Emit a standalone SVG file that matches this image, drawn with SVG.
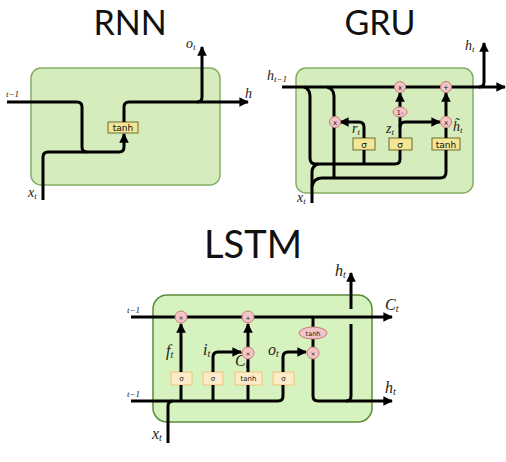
<svg xmlns="http://www.w3.org/2000/svg" width="506" height="462" viewBox="0 0 506 462">
<defs>
<marker id="ah" viewBox="0 0 10 10" refX="9" refY="5" markerWidth="3.2" markerHeight="3.2" orient="auto"><path d="M0,0 L10,5 L0,10 z" fill="#000"/></marker>
<style>
.title{font-family:Lato,"Open Sans","Liberation Sans",sans-serif;font-size:34px;fill:#111;text-anchor:middle}
.cell{fill:#d5ecbd;stroke:#86ad66;stroke-width:1.5}
.cell2{fill:#d6f3bf;stroke:#5b8c3a;stroke-width:1.5}
.w{fill:none;stroke:#000;stroke-width:3;stroke-linecap:butt;stroke-linejoin:round}
.a{marker-end:url(#ah)}
.op{fill:#f4c4c6;stroke:#c27a7a;stroke-width:1}
.gb{fill:#f3e796;stroke:#6e6a30;stroke-width:1}
.lb{fill:#fdebc7;stroke:#f0c27c;stroke-width:1}
.gt{font-family:"DejaVu Sans","Liberation Sans",sans-serif;font-size:9px;fill:#111;text-anchor:middle}
.st{font-family:"DejaVu Sans","Liberation Sans",sans-serif;font-size:7px;fill:#222;text-anchor:middle}
.m{font-family:"Liberation Serif","DejaVu Serif",serif;font-style:italic;font-size:14px;fill:#222}
.ms{font-size:9px}
.L{font-size:16px}
.Ls{font-size:10px}
</style>
</defs>

<text class="title" x="130" y="35">RNN</text>
<text class="title" x="380" y="35">GRU</text>
<text class="title" x="253" y="258" style="font-size:38px">LSTM</text>

<g id="rnn">
<rect class="cell" x="31" y="68" width="189" height="117" rx="10"/>
<g id="rnn-tanh"><rect class="gb" x="108" y="122" width="30" height="11"/><text class="gt" x="123" y="131">tanh</text></g>
<text class="m" x="186" y="48">o<tspan class="ms" dy="2">t</tspan></text>
<text class="m" x="245" y="98">h</text>
<text class="m" x="6" y="97"><tspan class="ms">t−1</tspan></text>
<text class="m" x="28" y="197">x<tspan class="ms" dy="2">t</tspan></text>
</g>

<g id="gru">
<rect class="cell" x="296" y="68" width="177" height="125" rx="10"/>
<g id="gru-sr"><rect class="gb" x="353" y="138" width="22" height="12"/><text class="gt" x="364" y="148">σ</text></g>
<g id="gru-sz"><rect class="gb" x="389" y="138" width="23" height="12"/><text class="gt" x="400" y="148">σ</text></g>
<g id="gru-tanh"><rect class="gb" x="432" y="138" width="28" height="12"/><text class="gt" x="446" y="148">tanh</text></g>
<text class="m" x="267" y="80">h<tspan class="ms" dy="2">t−1</tspan></text>
<text class="m" x="465" y="50">h<tspan class="ms" dy="2">t</tspan></text>
<text class="m" x="352" y="133">r<tspan class="ms" dy="2">t</tspan></text>
<text class="m" x="386" y="133">z<tspan class="ms" dy="2">t</tspan></text>
<text class="m" x="453" y="131">h̃<tspan class="ms" dy="2">t</tspan></text>
<text class="m" x="297" y="202">x<tspan class="ms" dy="2">t</tspan></text>
</g>

<g id="lstm">
<rect class="cell2" x="153" y="295" width="219" height="127" rx="14"/>
<g id="l-sf"><rect class="lb" x="171" y="372" width="21" height="13"/><text class="st" x="181.5" y="381">σ</text></g>
<g id="l-si"><rect class="lb" x="203" y="372" width="20" height="13"/><text class="st" x="213" y="381">σ</text></g>
<g id="l-tanh"><rect class="lb" x="235" y="372" width="27" height="13"/><text class="st" x="248.5" y="381">tanh</text></g>
<g id="l-so"><rect class="lb" x="273" y="372" width="21" height="13"/><text class="st" x="283.5" y="381">σ</text></g>
<text class="m" x="127" y="313"><tspan class="ms">t−1</tspan></text>
<text class="m" x="127" y="397"><tspan class="ms">t−1</tspan></text>
<text class="m L" x="385" y="310">C<tspan class="Ls" dy="2">t</tspan></text>
<text class="m L" x="385" y="393">h<tspan class="Ls" dy="2">t</tspan></text>
<text class="m L" x="335" y="276">h<tspan class="Ls" dy="2">t</tspan></text>
<text class="m L" x="166" y="356">f<tspan class="Ls" dy="2">t</tspan></text>
<text class="m L" x="203" y="355">i<tspan class="Ls" dy="2">t</tspan></text>
<text class="m L" x="235" y="366">C̃<tspan class="Ls" dy="2">t</tspan></text>
<text class="m L" x="268" y="355">o<tspan class="Ls" dy="2">t</tspan></text>
<text class="m L" x="152" y="439">x<tspan class="Ls" dy="2">t</tspan></text>
</g>

<g id="connectors">
<!-- RNN -->
<path class="w" d="M7,102 H77 Q82,102 82,107 V147 Q82,152 87,152"/>
<path class="w a" d="M43,200 V157 Q43,152 48,152 H119 Q124,152 124,147 V134"/>
<path class="w a" d="M124,122 V107 Q124,102 129,102 H248"/>
<path class="w a" d="M197,102 Q202,102 202,97 V47"/>
<!-- GRU -->
<path class="w a" d="M282,87 H505"/>
<path class="w a" d="M479,87 Q484,87 484,82 V43"/>
<path class="w" d="M304,87 Q310,89 310,96 V158 Q310,164 316,164 H395 Q400,164 400,159 V150"/>
<path class="w" d="M327,87 Q334,89 334,96 V177"/>
<path class="w" d="M312,203 V172 Q312,166 318,164"/>
<path class="w" d="M312,186 Q314,178 322,178 H440 Q446,178 446,172 V150"/>
<path class="w" d="M364,164 V150"/>
<path class="w a" d="M364,138 V127 Q364,122 359,122 H340"/>
<path class="w" d="M400,138 V117"/>
<path class="w a" d="M400,107 V93"/>
<path class="w a" d="M400,127 Q400,122 405,122 H440"/>
<path class="w" d="M446,138 V128"/>
<path class="w a" d="M446,116 V93"/>
<!-- LSTM -->
<path class="w a" d="M131,317 H392"/>
<path class="w" d="M131,401 H278 Q283,401 283,396 V385"/>
<path class="w" d="M168,443 V406 Q168,401 173,401"/>
<path class="w" d="M181,401 V385"/>
<path class="w a" d="M181,372 V324"/>
<path class="w" d="M213,401 V385"/>
<path class="w a" d="M213,372 V357 Q213,352 218,352 H241"/>
<path class="w" d="M248,401 V385"/>
<path class="w" d="M248,372 V359"/>
<path class="w a" d="M248,347 V324"/>
<path class="w a" d="M283,372 V357 Q283,352 288,352 H306"/>
<path class="w" d="M313,317 V327"/>
<path class="w" d="M313,339 V347"/>
<path class="w a" d="M313,359 V396 Q313,401 318,401 H392"/>
<path class="w" d="M346,401 Q351,401 351,396 V324"/>
<path class="w a" d="M351,309 V273"/>
</g>

<g id="ops">
<g id="g-x1"><circle class="op" cx="400" cy="87" r="5.5"/><text class="st" x="400" y="90">x</text></g>
<g id="g-p"><circle class="op" cx="446" cy="87" r="5.5"/><text class="st" x="446" y="90">+</text></g>
<g id="g-xr"><circle class="op" cx="335" cy="122" r="5.5"/><text class="st" x="335" y="125">x</text></g>
<g id="g-xz"><circle class="op" cx="446" cy="122" r="5.5"/><text class="st" x="446" y="125">x</text></g>
<g id="g-1m"><ellipse class="op" cx="400" cy="112" rx="7" ry="5"/><text class="st" x="400" y="115">1-</text></g>
<g id="l-xf"><circle class="op" cx="181" cy="317" r="6"/><text class="st" x="181" y="319.5" style="font-size:6px">×</text></g>
<g id="l-p"><circle class="op" cx="248" cy="317" r="6"/><text class="st" x="248" y="319.5" style="font-size:6px">+</text></g>
<g id="l-xi"><circle class="op" cx="248" cy="353" r="6"/><text class="st" x="248" y="355.5" style="font-size:6px">×</text></g>
<g id="l-xo"><circle class="op" cx="313" cy="353" r="6"/><text class="st" x="313" y="355.5" style="font-size:6px">×</text></g>
<g id="l-tanh2"><ellipse class="op" cx="313" cy="333" rx="14" ry="6"/><text class="st" x="313" y="335.5" style="font-size:6.5px">tanh</text></g>
</g>
</svg>
